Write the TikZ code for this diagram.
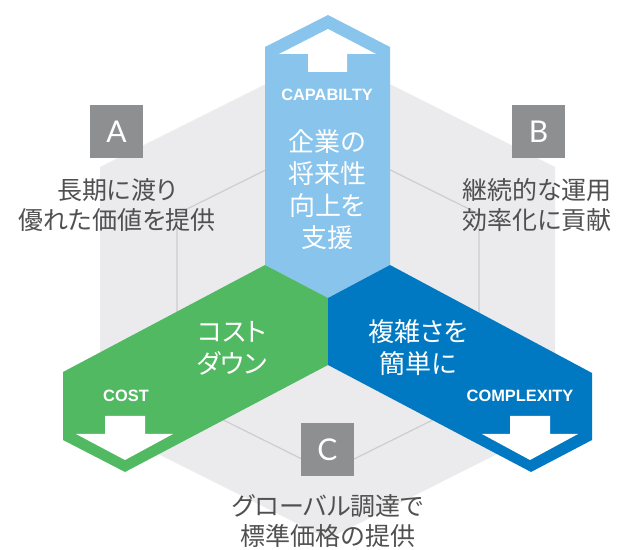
\documentclass[tikz,border=0pt]{standalone}
\usepackage{fontspec}
\setmainfont{Lato}
\newfontfamily\jpfont[RawFeature=+palt]{Noto Sans CJK JP}
\newfontfamily\tagfont{Liberation Sans}
\definecolor{capblue}{HTML}{88C4EC}
\definecolor{costgreen}{HTML}{52B963}
\definecolor{cpxblue}{HTML}{0079C2}
\definecolor{hexgray}{HTML}{EBEBEE}
\definecolor{hexline}{HTML}{CDCDD0}
\definecolor{boxgray}{HTML}{8E8F91}
\definecolor{descgray}{HTML}{505050}
\begin{document}
\begin{tikzpicture}[x=0.5pt,y=-0.5pt,
	letterbox/.style={fill=boxgray,text=white,minimum size=26.5pt,inner sep=0pt,font=\fontsize{15}{15}\selectfont},
	desc/.style={text=descgray,align=center,inner sep=0pt,font=\jpfont\fontsize{12.5}{15}\selectfont},
	inside/.style={text=white,align=center,inner sep=0pt,font=\jpfont\fontsize{13}{16}\selectfont},
	tag/.style={text=white,inner sep=0pt,font=\tagfont\bfseries\fontsize{8.2}{8}\selectfont}]
	\useasboundingbox (0,0) rectangle (617,550);
	% background hexagons
	\fill[hexgray] (328,53) -- (100,167) -- (100,425) -- (328,539) -- (555,425) -- (555,167) -- cycle;
	\draw[hexline,line width=0.6pt] (328,139) -- (177,214) -- (177,397) -- (328,472) -- (479,397) -- (479,214) -- cycle;
	% the three bands
	\fill[capblue] (328,298) -- (265,265) -- (265,47) -- (328,15) -- (390,47) -- (390,265) -- cycle;
	\fill[costgreen] (265,265) -- (328,298) -- (328,365) -- (125,472) -- (63,440) -- (63,372) -- cycle;
	\fill[cpxblue] (390,265) -- (592,373) -- (592,440) -- (531,472) -- (328,365) -- (328,298) -- cycle;
	% white arrows
	\fill[white] (328,29) -- (376,54) -- (347,54) -- (347,72) -- (308,72) -- (308,54) -- (279,54) -- cycle;
	\fill[white] (125,460) -- (173,434) -- (145,434) -- (145,416) -- (105,416) -- (105,434) -- (76,434) -- cycle;
	\fill[white] (530,460) -- (578,434) -- (550,434) -- (550,416) -- (510,416) -- (510,434) -- (482,434) -- cycle;
	% labels on the bands
	\node[tag] (capname) at (327,95) {CAPABILTY};
	\node[tag] (costname) at (126,396) {COST};
	\node[tag] (cpxname) at (520,396) {COMPLEXITY};
	\node[inside] (captext) at (327,190) {企業の\\将来性\\向上を\\支援};
	\node[inside] (costtext) at (232,348) {コスト\\ダウン};
	\node[inside] (cpxtext) at (418,348) {複雑さを\\簡単に};
	% A, B, C
	\node[letterbox] (boxa) at (116.5,131.5) {A};
	\node[letterbox] (boxb) at (538.5,131.5) {B};
	\node[letterbox] (boxc) at (327.5,449.5) {C};
	\node[desc] (desca) at (117,205) {長期に渡り\\優れた価値を提供};
	\node[desc] (descb) at (537,205) {継続的な運用\\効率化に貢献};
	\node[desc] (descc) at (328,521) {グローバル調達で\\標準価格の提供};
\end{tikzpicture}
\end{document}
